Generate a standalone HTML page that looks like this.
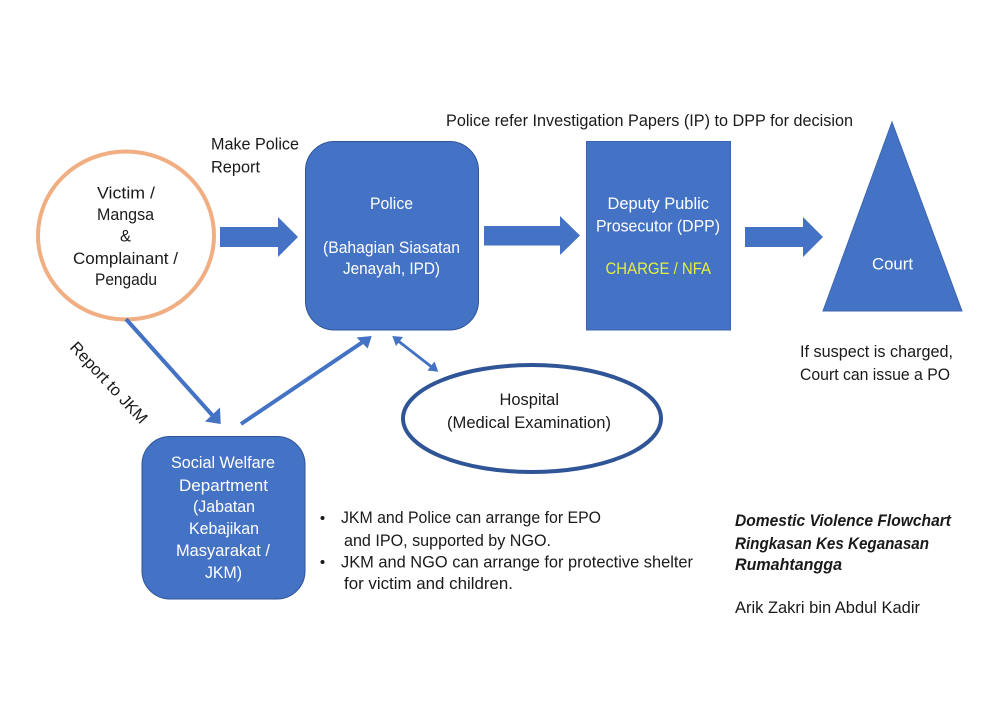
<!DOCTYPE html>
<html><head><meta charset="utf-8"><style>
html,body{margin:0;padding:0;background:#fff}
svg{display:block;filter:blur(0.35px)}
text{font-family:"Liberation Sans",sans-serif;font-size:16.5px;fill:#1a1a1a}
.w{fill:#fff}
</style></head><body>
<svg width="1000" height="707" viewBox="0 0 1000 707" xmlns="http://www.w3.org/2000/svg">
<rect width="1000" height="707" fill="#fff"/>
<ellipse cx="126" cy="235.5" rx="88" ry="84" fill="#fff" stroke="#f0ae82" stroke-width="4"/>
<rect x="305.5" y="141.5" width="173" height="188.5" rx="29" fill="#4472c4" stroke="#2f5597"/>
<rect x="586.5" y="141.5" width="144" height="188.5" fill="#4472c4" stroke="#3c66b0"/>
<polygon points="892,122 962,311 823,311" fill="#4472c4" stroke="#3c66b0"/>
<ellipse cx="532" cy="418.5" rx="129" ry="53.5" fill="#fff" stroke="#2f5597" stroke-width="4"/>
<rect x="142" y="436.5" width="163" height="162.5" rx="28" fill="#4472c4" stroke="#2f5597"/>

<polygon points="220,227 278,227 278,217 298,237 278,257 278,247 220,247" fill="#4472c4"/>
<polygon points="484,226 560,226 560,216 580,235.5 560,255 560,245.5 484,245.5" fill="#4472c4"/>
<polygon points="745,227 803,227 803,217 823,237 803,257 803,247 745,247" fill="#4472c4"/>

<line x1="126" y1="319" x2="213" y2="416" stroke="#4472c4" stroke-width="4"/>
<polygon points="220.7,424 205,421.5 220,407.5" fill="#4472c4"/>
<line x1="241" y1="424" x2="362" y2="342.5" stroke="#4472c4" stroke-width="4"/>
<polygon points="371.7,336 356.5,337.5 367.7,348.5" fill="#4472c4"/>
<line x1="397" y1="340" x2="433" y2="368" stroke="#4472c4" stroke-width="2.8"/>
<polygon points="392.3,336 403,337 396,346" fill="#4472c4"/>
<polygon points="438.3,371.7 427.5,370.5 434.5,361.5" fill="#4472c4"/>

<text x="211" y="149.5" textLength="88" lengthAdjust="spacingAndGlyphs">Make Police</text>
<text x="211" y="172.5" textLength="49" lengthAdjust="spacingAndGlyphs">Report</text>
<text x="446" y="126" textLength="407" lengthAdjust="spacingAndGlyphs">Police refer Investigation Papers (IP) to DPP for decision</text>

<text x="97" y="198.5" textLength="58" lengthAdjust="spacingAndGlyphs">Victim /</text>
<text x="97" y="220" textLength="57" lengthAdjust="spacingAndGlyphs">Mangsa</text>
<text x="120" y="241.5" textLength="11" lengthAdjust="spacingAndGlyphs">&amp;</text>
<text x="73" y="264" textLength="105" lengthAdjust="spacingAndGlyphs">Complainant /</text>
<text x="95" y="285" textLength="62" lengthAdjust="spacingAndGlyphs">Pengadu</text>

<text class="w" x="370" y="209" textLength="43" lengthAdjust="spacingAndGlyphs">Police</text>
<text class="w" x="323" y="253" textLength="137" lengthAdjust="spacingAndGlyphs">(Bahagian Siasatan</text>
<text class="w" x="343" y="274" textLength="97" lengthAdjust="spacingAndGlyphs">Jenayah, IPD)</text>

<text class="w" x="607.5" y="209" textLength="101.5" lengthAdjust="spacingAndGlyphs">Deputy Public</text>
<text class="w" x="596" y="231.5" textLength="124" lengthAdjust="spacingAndGlyphs">Prosecutor (DPP)</text>
<text x="605.5" y="274" textLength="105.5" lengthAdjust="spacingAndGlyphs" style="fill:#e6ee3c">CHARGE / NFA</text>

<text class="w" x="872" y="269.5" textLength="41" lengthAdjust="spacingAndGlyphs">Court</text>
<text x="800" y="357" textLength="153" lengthAdjust="spacingAndGlyphs">If suspect is charged,</text>
<text x="800" y="380" textLength="150" lengthAdjust="spacingAndGlyphs">Court can issue a PO</text>

<text x="499.5" y="405" textLength="59.5" lengthAdjust="spacingAndGlyphs">Hospital</text>
<text x="447" y="428" textLength="164" lengthAdjust="spacingAndGlyphs">(Medical Examination)</text>

<text transform="translate(69,348) rotate(47)" textLength="105" lengthAdjust="spacingAndGlyphs">Report to JKM</text>

<text class="w" x="171" y="468" textLength="104" lengthAdjust="spacingAndGlyphs">Social Welfare</text>
<text class="w" x="179" y="491" textLength="89" lengthAdjust="spacingAndGlyphs">Department</text>
<text class="w" x="193" y="512" textLength="62" lengthAdjust="spacingAndGlyphs">(Jabatan</text>
<text class="w" x="189" y="534" textLength="70" lengthAdjust="spacingAndGlyphs">Kebajikan</text>
<text class="w" x="176" y="556" textLength="94" lengthAdjust="spacingAndGlyphs">Masyarakat /</text>
<text class="w" x="205" y="578" textLength="37" lengthAdjust="spacingAndGlyphs">JKM)</text>

<circle cx="322.5" cy="518" r="2" fill="#1a1a1a"/>
<circle cx="322.5" cy="562" r="2" fill="#1a1a1a"/>
<text x="341" y="523" textLength="260" lengthAdjust="spacingAndGlyphs">JKM and Police can arrange for EPO</text>
<text x="344" y="546" textLength="207" lengthAdjust="spacingAndGlyphs">and IPO, supported by NGO.</text>
<text x="341" y="567.5" textLength="352" lengthAdjust="spacingAndGlyphs">JKM and NGO can arrange for protective shelter</text>
<text x="344" y="589" textLength="169" lengthAdjust="spacingAndGlyphs">for victim and children.</text>

<text x="735" y="526" textLength="216" lengthAdjust="spacingAndGlyphs" font-weight="bold" font-style="italic">Domestic Violence Flowchart</text>
<text x="735" y="549" textLength="194" lengthAdjust="spacingAndGlyphs" font-weight="bold" font-style="italic">Ringkasan Kes Keganasan</text>
<text x="735" y="570" textLength="107" lengthAdjust="spacingAndGlyphs" font-weight="bold" font-style="italic">Rumahtangga</text>
<text x="735" y="613" textLength="185" lengthAdjust="spacingAndGlyphs">Arik Zakri bin Abdul Kadir</text>
</svg>
</body></html>
